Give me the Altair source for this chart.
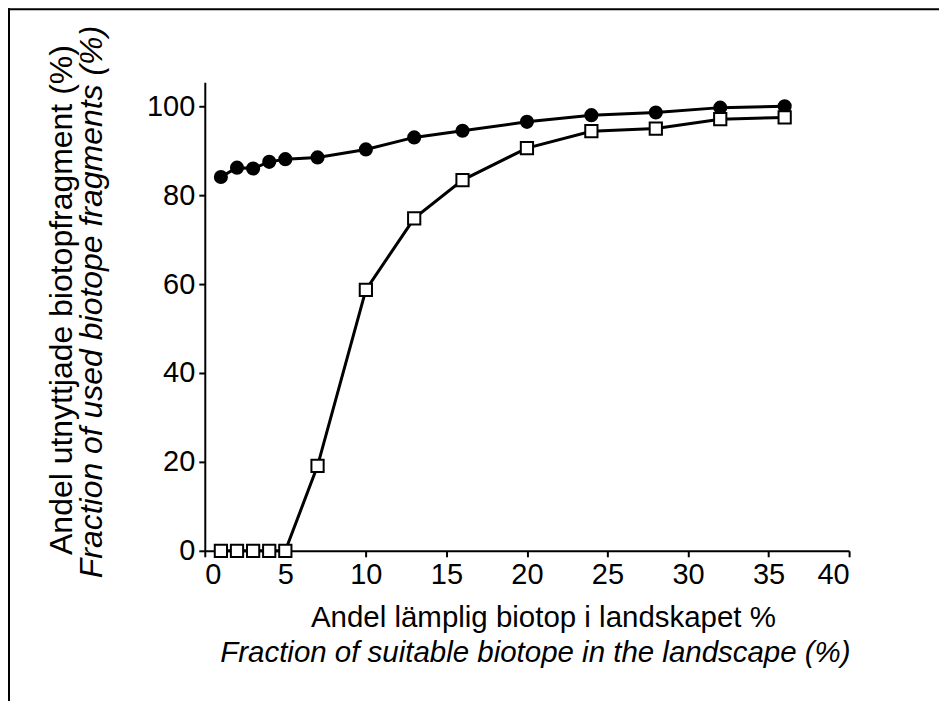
import altair as alt
import pandas as pd

# Data
x_vals = [1, 2, 3, 4, 5, 7, 10, 13, 16, 20, 24, 28, 32, 36]
filled_vals = [84.1, 86.2, 86.0, 87.5, 88.1, 88.5, 90.3, 93.0, 94.5, 96.5, 98.0, 98.6, 99.7, 100.0]
open_vals = [0, 0, 0, 0, 0, 19.1, 58.7, 74.8, 83.4, 90.6, 94.4, 95.0, 97.1, 97.5]

x_ticks = [0, 5, 10, 15, 20, 25, 30, 35, 40]
y_ticks = [0, 20, 40, 60, 80, 100]

ytitle_sv = "Andel utnyttjade biotopfragment (%)"
ytitle_en = "Fraction of used biotope fragments (%)"
xtitle_sv = "Andel lämplig biotop i landskapet %"
xtitle_en = "Fraction of suitable biotope in the landscape (%)"

FONT = "Liberation Sans"

df_f = pd.DataFrame({"x": x_vals, "y": filled_vals})
df_o = pd.DataFrame({"x": x_vals, "y": open_vals})

xenc = alt.X("x:Q", scale=alt.Scale(domain=[0, 40], nice=False),
             axis=alt.Axis(values=x_ticks, title="", labelPadding=4))
yenc = alt.Y("y:Q", scale=alt.Scale(domain=[0, 105.4], nice=False),
             axis=alt.Axis(values=y_ticks, title="", labelPadding=4))

line_f = alt.Chart(df_f).mark_line(color="black", strokeWidth=3).encode(x=xenc, y=yenc)
pts_f = alt.Chart(df_f).mark_point(shape="circle", filled=True, color="black", size=200, opacity=1).encode(x=xenc, y=yenc)
line_o = alt.Chart(df_o).mark_line(color="black", strokeWidth=3).encode(x=xenc, y=yenc)
pts_o = alt.Chart(df_o).mark_point(shape="square", filled=True, fill="white", stroke="black",
                                   strokeWidth=2, size=150, opacity=1).encode(x=xenc, y=yenc)


def label(txt, x, y, angle=0, italic=False, size=29, baseline="middle"):
    d = pd.DataFrame({"t": [txt]})
    kw = dict(font=FONT, fontSize=size, color="black", align="center", baseline=baseline)
    if italic:
        kw["fontStyle"] = "italic"
    if angle:
        kw["angle"] = angle
    return alt.Chart(d).mark_text(**kw).encode(text="t:N", x=alt.value(x), y=alt.value(y))


t1 = label(ytitle_sv, -143, 218, angle=270, size=32)
t2 = label(ytitle_en, -113, 220, angle=270, italic=True, size=32)
t3 = label(xtitle_sv, 339, 545, size=29.5, baseline="alphabetic")
t4 = label(xtitle_en, 331, 580, italic=True, size=29.5, baseline="alphabetic")

frame_df = pd.DataFrame({"a": [0]})
top_rule = alt.Chart(frame_df).mark_rule(color="black", strokeWidth=2).encode(
    x=alt.value(-198), x2=alt.value(735), y=alt.value(-73))
left_rule = alt.Chart(frame_df).mark_rule(color="black", strokeWidth=2).encode(
    x=alt.value(-196), y=alt.value(-74), y2=alt.value(640))

chart = alt.layer(
    top_rule, left_rule, line_f, pts_f, line_o, pts_o, t1, t2, t3, t4
).properties(
    width=645, height=469,
    autosize=alt.AutoSizeParams(type="none"),
    padding={"left": 197, "top": 74, "right": 90, "bottom": 150},
    background="white",
).configure_view(stroke=None).configure_axis(
    domainColor="black", domainWidth=2, tickColor="black", tickWidth=2, tickSize=6,
    labelFont=FONT, labelFontSize=29, labelColor="black", grid=False,
)

chart.save("out.html", embed_options={"renderer": "svg", "actions": False})
